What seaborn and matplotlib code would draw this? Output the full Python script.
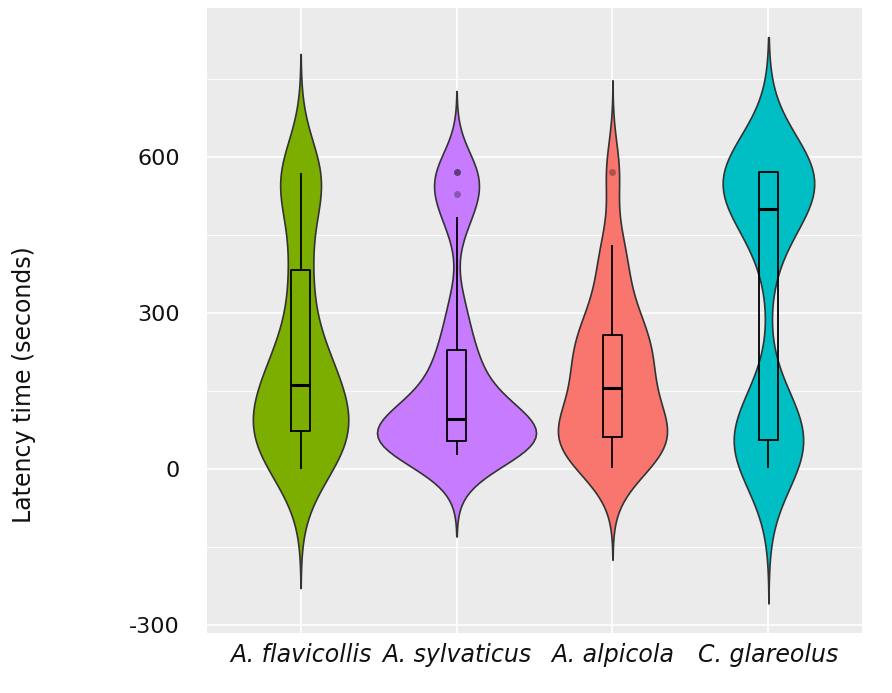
import numpy as np
import pandas as pd
import matplotlib
matplotlib.use("Agg")
import matplotlib.pyplot as plt
import seaborn as sns
from matplotlib.ticker import FixedLocator

# ---- data (latency in seconds) ----
species = ["A. flavicollis", "A. sylvaticus", "A. alpicola", "C. glareolus"]
flavicollis = [1, 5, 20, 35, 50, 62, 73, 85, 95, 105, 120, 140, 162, 175, 190,
               210, 240, 290, 382, 400, 530, 548, 558, 565, 568]
sylvaticus = [27, 35, 42, 48, 52, 54, 62, 70, 80, 90, 97, 110, 130, 160, 200,
              228, 300, 485, 528, 570, 570]
alpicola = [2, 15, 30, 45, 55, 62, 75, 90, 105, 130, 156, 175, 200, 220, 240,
            258, 280, 320, 380, 431, 571]
glareolus = [2, 15, 25, 32, 38, 42, 46, 50, 52, 54, 57, 62, 70, 80, 95, 110,
             135, 400, 450, 490, 508, 515, 525, 535, 540, 545, 550, 555, 560,
             570, 570, 570, 570, 570, 570, 570, 570, 570, 570, 570]
colors = ["#7CAE00", "#C77CFF", "#F8766D", "#00BFC4"]
yticks = [-300, 0, 300, 600]
yminor = [-150, 150, 450, 750]

groups = [flavicollis, sylvaticus, alpicola, glareolus]
df = pd.DataFrame({
    "species": np.repeat(species, [len(g) for g in groups]),
    "latency": np.concatenate([np.asarray(g, float) for g in groups]),
})


def nrd0(kde):
    """R's bw.nrd0 rule (ggplot2 default), expressed as a factor of the sd."""
    x = np.asarray(kde.dataset).ravel()
    sd = x.std(ddof=1)
    q1, q3 = np.percentile(x, [25, 75])
    lo = min(sd, (q3 - q1) / 1.34)
    return 0.9 * lo * len(x) ** (-0.2) / sd


sns.set_theme(style="darkgrid")
plt.rcParams["font.family"] = ["DejaVu Sans"]
plt.rcParams["axes.unicode_minus"] = False

fig = plt.figure(figsize=(8.92, 6.93), dpi=100)
ax = fig.add_axes([207 / 892, 60 / 693, 655 / 892, 625 / 693])
ax.set_facecolor("#EBEBEB")

sns.violinplot(data=df, x="species", y="latency", hue="species", order=species,
               hue_order=species, palette=colors, inner=None, cut=3,
               bw_method=nrd0, bw_adjust=0.82, density_norm="area",
               common_norm=True, width=1.02, linewidth=1.2,
               linecolor="#333333", saturation=1, legend=False, ax=ax)

sns.boxplot(data=df, x="species", y="latency", order=species, fill=False,
            color="black", width=0.12, linewidth=1.3, showcaps=False,
            medianprops=dict(linewidth=2.2, color="black"),
            flierprops=dict(marker="o", markersize=5, markerfacecolor="black",
                            markeredgecolor="none", alpha=0.3),
            ax=ax)

ax.set_ylim(-315, 886)
ax.set_xlim(-0.6, 3.6)
ax.yaxis.set_major_locator(FixedLocator(yticks))
ax.yaxis.set_minor_locator(FixedLocator(yminor))
ax.grid(which="major", color="white", linewidth=1.2)
ax.grid(which="minor", axis="y", color="white", linewidth=0.6)
ax.set_axisbelow(True)
for s in ax.spines.values():
    s.set_visible(False)

ax.tick_params(axis="y", which="major", length=3.5, width=0.8, color="#333333",
               pad=16, labelsize=16, labelcolor="#111111")
ax.tick_params(axis="y", which="minor", length=0)
ax.tick_params(axis="x", length=3.5, width=0.8, color="#333333", pad=4,
               labelsize=17, labelcolor="#111111")
for lab in ax.get_xticklabels():
    lab.set_fontstyle("italic")

ax.set_xlabel("")
ax.set_ylabel("Latency time (seconds)", fontsize=17, color="#111111")
ax.yaxis.set_label_coords(-0.261, 0.398)

fig.savefig("out.png", dpi=100)
